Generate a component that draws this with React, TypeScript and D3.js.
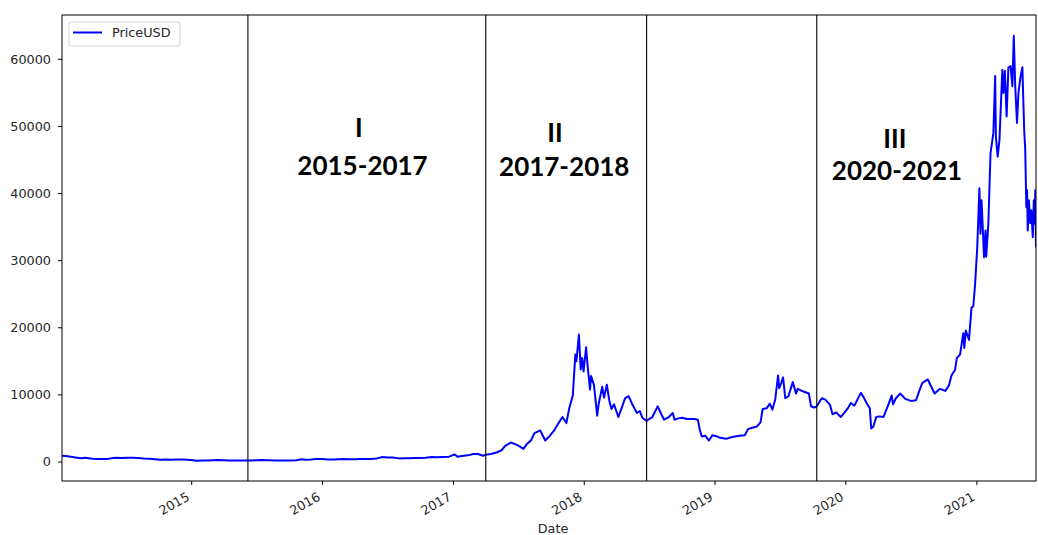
import * as d3 from "d3";
import React from "react";

const dates = [
  "2014-01-04", "2014-01-20", "2014-02-10", "2014-02-25", "2014-03-10", "2014-03-25", "2014-04-10", "2014-04-25",
  "2014-05-10", "2014-05-25", "2014-06-05", "2014-06-20", "2014-07-05", "2014-07-20", "2014-08-05", "2014-08-20",
  "2014-09-05", "2014-09-20", "2014-10-05", "2014-10-20", "2014-11-05", "2014-11-20", "2014-12-05", "2014-12-20",
  "2015-01-05", "2015-01-15", "2015-02-01", "2015-02-15", "2015-03-01", "2015-03-15", "2015-04-01", "2015-04-15",
  "2015-05-01", "2015-05-15", "2015-06-01", "2015-06-15", "2015-07-01", "2015-07-15", "2015-08-01", "2015-08-20",
  "2015-09-05", "2015-09-20", "2015-10-05", "2015-10-20", "2015-11-04", "2015-11-15", "2015-12-01", "2015-12-15",
  "2016-01-01", "2016-01-15", "2016-02-01", "2016-02-15", "2016-03-01", "2016-03-15", "2016-04-01", "2016-04-15",
  "2016-05-01", "2016-05-15", "2016-06-01", "2016-06-17", "2016-07-01", "2016-07-15", "2016-08-02", "2016-08-15",
  "2016-09-01", "2016-09-15", "2016-10-01", "2016-10-15", "2016-11-01", "2016-11-15", "2016-12-01", "2016-12-20",
  "2017-01-04", "2017-01-12", "2017-01-25", "2017-02-10", "2017-02-25", "2017-03-10", "2017-03-24", "2017-04-01",
  "2017-04-15", "2017-05-01", "2017-05-15", "2017-05-25", "2017-06-10", "2017-06-20", "2017-07-01", "2017-07-15",
  "2017-07-25", "2017-08-05", "2017-08-15", "2017-08-31", "2017-09-14", "2017-09-25", "2017-10-10", "2017-10-20",
  "2017-11-01", "2017-11-12", "2017-11-20", "2017-11-30", "2017-12-07", "2017-12-10", "2017-12-17", "2017-12-22",
  "2017-12-26", "2017-12-30",
  "2018-01-06", "2018-01-10", "2018-01-17", "2018-01-20", "2018-01-28", "2018-02-06", "2018-02-10", "2018-02-20",
  "2018-02-25", "2018-03-05", "2018-03-12", "2018-03-18", "2018-03-25", "2018-04-06", "2018-04-15", "2018-04-25",
  "2018-05-05", "2018-05-15", "2018-05-28", "2018-06-05", "2018-06-12", "2018-06-24", "2018-07-01", "2018-07-10",
  "2018-07-25", "2018-08-05", "2018-08-12", "2018-08-25", "2018-09-05", "2018-09-10", "2018-09-20", "2018-10-01",
  "2018-10-15", "2018-11-05", "2018-11-14", "2018-11-20", "2018-11-25", "2018-12-05", "2018-12-15", "2018-12-25",
  "2019-01-05", "2019-01-15", "2019-02-01", "2019-02-10", "2019-02-25", "2019-03-10", "2019-03-25", "2019-04-03",
  "2019-04-15", "2019-04-28", "2019-05-08", "2019-05-14", "2019-05-25", "2019-06-03", "2019-06-10", "2019-06-18",
  "2019-06-26", "2019-06-29", "2019-07-05", "2019-07-10", "2019-07-16", "2019-07-25", "2019-08-06", "2019-08-15",
  "2019-08-20", "2019-09-05", "2019-09-20", "2019-09-26", "2019-10-05", "2019-10-12", "2019-10-26", "2019-11-05",
  "2019-11-18", "2019-11-25", "2019-12-05", "2019-12-18", "2019-12-26",
  "2020-01-08", "2020-01-15", "2020-01-25", "2020-02-12", "2020-02-20", "2020-03-01", "2020-03-08", "2020-03-12",
  "2020-03-18", "2020-03-26", "2020-04-05", "2020-04-15", "2020-04-30", "2020-05-08", "2020-05-12", "2020-05-20",
  "2020-06-01", "2020-06-15", "2020-07-01", "2020-07-15", "2020-07-27", "2020-08-02", "2020-08-17", "2020-08-25",
  "2020-09-05", "2020-09-20", "2020-10-05", "2020-10-15", "2020-10-22", "2020-11-01", "2020-11-06", "2020-11-15",
  "2020-11-24", "2020-11-27", "2020-12-01", "2020-12-10", "2020-12-17", "2020-12-22", "2020-12-27",
  "2021-01-02", "2021-01-08", "2021-01-11", "2021-01-14", "2021-01-21", "2021-01-25", "2021-01-27", "2021-02-02",
  "2021-02-08", "2021-02-12", "2021-02-16", "2021-02-21", "2021-02-23", "2021-02-28", "2021-03-05", "2021-03-13",
  "2021-03-16", "2021-03-20", "2021-03-25", "2021-03-30", "2021-04-05", "2021-04-10", "2021-04-14", "2021-04-18",
  "2021-04-23", "2021-04-27", "2021-05-03", "2021-05-08", "2021-05-10", "2021-05-13", "2021-05-16", "2021-05-19",
  "2021-05-21", "2021-05-23", "2021-05-26", "2021-05-30", "2021-06-02", "2021-06-06", "2021-06-09", "2021-06-11",
  "2021-06-13", "2021-06-15",
];

const prices = [
  950, 850, 680, 560, 630, 520, 430, 460,
  440, 580, 650, 600, 630, 620, 590, 510,
  480, 410, 330, 390, 340, 380, 370, 320,
  270, 180, 225, 235, 260, 285, 245, 220,
  235, 237, 225, 235, 260, 285, 280, 230,
  235, 230, 240, 270, 400, 320, 370, 460,
  430, 380, 375, 400, 430, 415, 415, 430,
  450, 455, 540, 750, 680, 660, 540, 570,
  570, 610, 615, 640, 730, 710, 750, 800,
  1130, 800, 900, 990, 1180, 1190, 930, 1080,
  1180, 1420, 1750, 2400, 2900, 2700, 2450, 1950,
  2700, 3200, 4300, 4700, 3200, 3800, 4800, 5700,
  6700, 5800, 8000, 9900, 16000, 15000, 19000, 13800,
  15500, 13500,
  17100, 14500, 10800, 12800, 11500, 6900, 8600, 11200,
  9600, 11500, 9100, 7900, 8600, 6700, 8000, 9500,
  9800, 8600, 7300, 7600, 6600, 6100, 6400, 6700,
  8300, 7000, 6300, 6700, 7300, 6300, 6500, 6600,
  6400, 6400, 6300, 4700, 3800, 3900, 3200, 4000,
  3850, 3600, 3450, 3600, 3800, 3900, 4000, 4900,
  5100, 5300, 5900, 7900, 8000, 8700, 7800, 9300,
  12900, 11000, 11800, 12600, 9500, 9800, 11900, 10200,
  10900, 10500, 10200, 8300, 8100, 8300, 9500, 9300,
  8500, 7100, 7400, 6700, 7200,
  8100, 8800, 8400, 10300, 9600, 8600, 8000, 5000,
  5300, 6700, 6800, 6700, 8700, 9900, 8600, 9500,
  10200, 9400, 9100, 9200, 11000, 11800, 12300, 11400,
  10200, 10900, 10600, 11400, 12900, 13700, 15500, 16000,
  19200, 17000, 19600, 18200, 23000, 23200, 26500,
  32000, 40800, 34000, 39000, 30500, 34500, 30600, 35500,
  46000, 47500, 49000, 57500, 48500, 45500, 48000, 58400,
  55000, 58300, 51500, 58800, 59000, 56000, 63500, 56000,
  50500, 55000, 57500, 58800, 55000, 49500, 46500, 38000,
  40500, 34500, 39000, 35600, 37500, 33500, 39000, 35500,
  40500, 32000,
];

const yearTicks = ["2015", "2016", "2017", "2018", "2019", "2020", "2021"];
const yTicks = [0, 10000, 20000, 30000, 40000, 50000, 60000];
const splitDates = ["2015-06-07", "2017-04-01", "2018-06-24", "2019-10-12"];

const periodRoman = ["I", "II", "III"];
const periodRange = ["2015-2017", "2017-2018", "2020-2021"];
const romanDates = ["2016-04-12", "2017-10-11", "2020-05-17"];
const romanValues = [48400, 47700, 46800];
const rangeDates = ["2016-04-22", "2017-11-06", "2020-05-23"];
const rangeValues = [42800, 42600, 42000];

const W = 1038;
const H = 535;
const M = { left: 62, right: 2, top: 15, bottom: 54 };

export default function App() {
  const parse = d3.utcParse("%Y-%m-%d");
  const x = d3
    .scaleUtc()
    .domain([parse("2014-01-04")!, parse("2021-06-15")!])
    .range([M.left, W - M.right]);
  const y = d3.scaleLinear().domain([-2830, 66600]).range([H - M.bottom, M.top]);

  const pts = dates.map((d, i) => ({ d: parse(d)!, v: prices[i] }));
  const line = d3
    .line<{ d: Date; v: number }>()
    .x((p) => x(p.d))
    .y((p) => y(p.v));

  const font = "'DejaVu Sans', sans-serif";
  const bottom = H - M.bottom;

  return (
    <svg
      width={W}
      height={H}
      style={{ position: "absolute", left: 0, top: 0, background: "#fff" }}
    >
      <defs>
        <clipPath id="plot">
          <rect x={M.left} y={M.top} width={W - M.left - M.right} height={bottom - M.top} />
        </clipPath>
      </defs>

      <path
        d={line(pts) || undefined}
        fill="none"
        stroke="#0000ff"
        strokeWidth={2}
        strokeLinejoin="round"
        clipPath="url(#plot)"
      />

      {splitDates.map((d) => (
        <line
          key={d}
          x1={x(parse(d)!)}
          x2={x(parse(d)!)}
          y1={M.top}
          y2={bottom}
          stroke="#000"
          strokeWidth={1.1}
        />
      ))}

      {periodRoman.map((r, i) => (
        <g key={r} fontFamily="Lato, 'Open Sans', sans-serif" fontWeight="bold" fontSize={26} textAnchor="middle" fill="#000">
          <text x={x(parse(romanDates[i])!)} y={y(romanValues[i])}>{r}</text>
          <text x={x(parse(rangeDates[i])!)} y={y(rangeValues[i])}>{periodRange[i]}</text>
        </g>
      ))}

      {/* frame */}
      <rect
        x={M.left}
        y={M.top}
        width={W - M.left - M.right}
        height={bottom - M.top}
        fill="none"
        stroke="#000"
        strokeWidth={1}
      />

      {/* y axis */}
      {yTicks.map((t) => (
        <g key={t} transform={`translate(${M.left},${y(t)})`}>
          <line x1={-4} x2={0} stroke="#000" />
          <text x={-11} dy="0.35em" textAnchor="end" fontFamily={font} fontSize={12.8} fill="#262626">
            {t}
          </text>
        </g>
      ))}

      {/* x axis */}
      {yearTicks.map((t) => {
        const px = x(parse(`${t}-01-01`)!);
        return (
          <g key={t}>
            <line x1={px} x2={px} y1={bottom} y2={bottom + 4} stroke="#000" />
            <text
              transform={`translate(${px - 6},${bottom + 10}) rotate(-30)`}
              dy="0.75em"
              textAnchor="end"
              fontFamily={font}
              fontSize={12.8}
              fill="#262626"
            >
              {t}
            </text>
          </g>
        );
      })}
      <text x={553} y={533} textAnchor="middle" fontFamily={font} fontSize={12.8} fill="#262626">
        Date
      </text>

      {/* legend */}
      <rect x={69} y={22} width={111} height={24} rx={2.5} fill="#fff" fillOpacity={0.8} stroke="#d0d0d0" />
      <line x1={73} x2={102} y1={32.5} y2={32.5} stroke="#0000ff" strokeWidth={2} />
      <text x={112} y={37} fontFamily={font} fontSize={12.8} fill="#262626">
        PriceUSD
      </text>
    </svg>
  );
}
